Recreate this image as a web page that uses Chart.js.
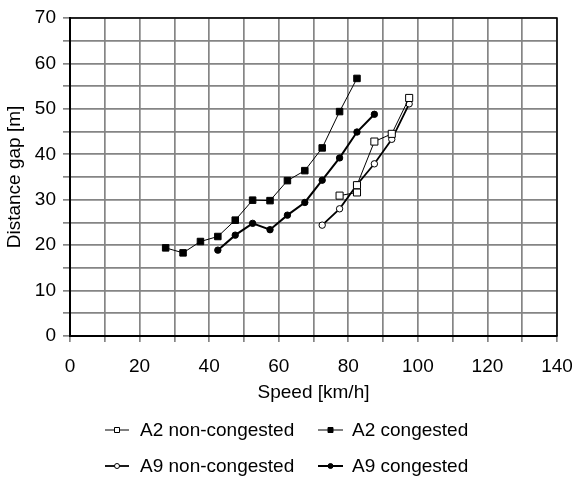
<!DOCTYPE html>
<html>
<head>
<meta charset="utf-8">
<script src="https://cdn.jsdelivr.net/npm/chart.js@4/dist/chart.umd.min.js"></script>
<style>
html,body{margin:0;padding:0;background:#fff;}
#wrap{width:572px;height:480px;position:relative;}
</style>
</head>
<body>
<div id="wrap"><canvas id="c" width="572" height="480"></canvas></div>
<script>
// ---- data ----
const seriesNames = ["A2 non-congested", "A2 congested", "A9 non-congested", "A9 congested"];
const a2nSpeed = [77.5, 82.5, 82.5, 87.5, 92.5, 97.5];
const a2nGap   = [30.9, 31.6, 33.2, 42.8, 44.5, 52.4];
const a2cSpeed = [27.5, 32.5, 37.5, 42.5, 47.5, 52.5, 57.5, 62.5, 67.5, 72.5, 77.5, 82.5];
const a2cGap   = [19.4, 18.3, 20.8, 21.9, 25.5, 29.9, 29.8, 34.2, 36.4, 41.4, 49.4, 56.7];
const a9nSpeed = [72.5, 77.5, 82.5, 87.5, 92.5, 97.5];
const a9nGap   = [24.4, 28.0, 33.3, 37.9, 43.3, 51.1];
const a9cSpeed = [42.5, 47.5, 52.5, 57.5, 62.5, 67.5, 72.5, 77.5, 82.5, 87.5];
const a9cGap   = [18.9, 22.2, 24.8, 23.4, 26.6, 29.4, 34.3, 39.2, 44.9, 48.8];
const xTitle = "Speed [km/h]";
const yTitle = "Distance gap [m]";
const xMin = 0, xMax = 140, xStep = 10, xLabelEvery = 20;
const yMin = 0, yMax = 70, yStep = 5, yLabelEvery = 10;

const pts = (xs, ys) => xs.map((x, i) => ({x: x, y: ys[i]}));
const FONT = "'Liberation Sans', Arial, sans-serif";
const FS = 19;

const datasets = [
  {label: seriesNames[0], data: pts(a2nSpeed, a2nGap), borderColor: '#000', borderWidth: 1,
   pointStyle: 'rect', pointRadius: 5, pointBackgroundColor: '#fff', pointBorderColor: '#000', pointBorderWidth: 1},
  {label: seriesNames[1], data: pts(a2cSpeed, a2cGap), borderColor: '#000', borderWidth: 1,
   pointStyle: 'rect', pointRadius: 4.6, pointBackgroundColor: '#000', pointBorderColor: '#000', pointBorderWidth: 1},
  {label: seriesNames[2], data: pts(a9nSpeed, a9nGap), borderColor: '#000', borderWidth: 1.8,
   pointStyle: 'circle', pointRadius: 3.2, pointBackgroundColor: '#fff', pointBorderColor: '#000', pointBorderWidth: 1},
  {label: seriesNames[3], data: pts(a9cSpeed, a9cGap), borderColor: '#000', borderWidth: 2,
   pointStyle: 'circle', pointRadius: 3.2, pointBackgroundColor: '#000', pointBorderColor: '#000', pointBorderWidth: 1}
];
datasets.forEach(d => { d.showLine = true; d.fill = false; d.tension = 0; d.backgroundColor = d.pointBackgroundColor; });

// frame around plot area + custom legend
const framePlugin = {
  id: 'frame',
  afterDraw(chart) {
    const {ctx, chartArea: a} = chart;
    ctx.save();
    ctx.strokeStyle = '#000';
    ctx.lineWidth = 1.5;
    ctx.beginPath();
    ctx.moveTo(a.left, a.top); ctx.lineTo(a.right, a.top); ctx.lineTo(a.right, a.bottom);
    ctx.stroke();
    ctx.restore();
  }
};
const legendPlugin = {
  id: 'customLegend',
  afterDraw(chart) {
    const ctx = chart.ctx;
    const cols = [{sx: 105, ex: 129, tx: 140}, {sx: 318, ex: 343, tx: 352}];
    const rows = [430, 466];
    ctx.save();
    ctx.font = FS + "px " + FONT;
    ctx.textBaseline = 'middle';
    ctx.fillStyle = '#000';
    chart.data.datasets.forEach((d, i) => {
      const c = cols[i % 2], y = rows[Math.floor(i / 2)];
      ctx.strokeStyle = d.borderColor;
      ctx.lineWidth = d.borderWidth;
      ctx.beginPath(); ctx.moveTo(c.sx, y); ctx.lineTo(c.ex, y); ctx.stroke();
      const mx = (c.sx + c.ex) / 2;
      ctx.fillStyle = d.pointBackgroundColor;
      ctx.strokeStyle = d.pointBorderColor;
      ctx.lineWidth = 1;
      ctx.beginPath();
      if (d.pointStyle === 'rect') {
        ctx.rect(mx - 2.5, y - 2.5, 5, 5);
      } else {
        ctx.arc(mx, y, 2.5, 0, Math.PI * 2);
      }
      ctx.fill(); ctx.stroke();
      ctx.fillStyle = '#000';
      ctx.fillText(d.label, c.tx, y + 1);
    });
    ctx.restore();
  }
};

const gridColor = '#858585';
new Chart(document.getElementById('c'), {
  type: 'scatter',
  data: {datasets: datasets},
  plugins: [framePlugin, legendPlugin],
  options: {
    responsive: false,
    animation: false,
    layout: {padding: {left: 0, right: 15, top: 18, bottom: 76}},
    plugins: {legend: {display: false}, tooltip: {enabled: false}},
    scales: {
      x: {
        type: 'linear', min: xMin, max: xMax,
        afterFit(s) { s.height = 68; s.paddingLeft = 0; s.paddingRight = 0; },
        ticks: {stepSize: xStep, color: '#000', font: {family: FONT, size: FS}, padding: 13,
                maxRotation: 0, autoSkip: false,
                callback: v => (v % xLabelEvery === 0 ? String(v) : '')},
        grid: {color: gridColor, lineWidth: 1.7, tickLength: 6, tickColor: gridColor},
        border: {color: '#000', width: 2},
        title: {display: true, text: xTitle, color: '#000', font: {family: FONT, size: FS}, padding: {top: 0, bottom: 0}}
      },
      y: {
        type: 'linear', min: yMin, max: yMax,
        afterFit(s) { s.width = 70; s.paddingTop = 0; s.paddingBottom = 0; },
        ticks: {stepSize: yStep, color: '#000', font: {family: FONT, size: FS}, padding: 7, autoSkip: false,
                callback: v => (v % yLabelEvery === 0 ? String(v) : '')},
        grid: {color: gridColor, lineWidth: 1.7, tickLength: 7, tickColor: gridColor},
        border: {color: '#000', width: 2},
        title: {display: true, text: yTitle, color: '#000', font: {family: FONT, size: FS}, padding: {top: 3, bottom: 0}}
      }
    }
  }
});
</script>
</body>
</html>
